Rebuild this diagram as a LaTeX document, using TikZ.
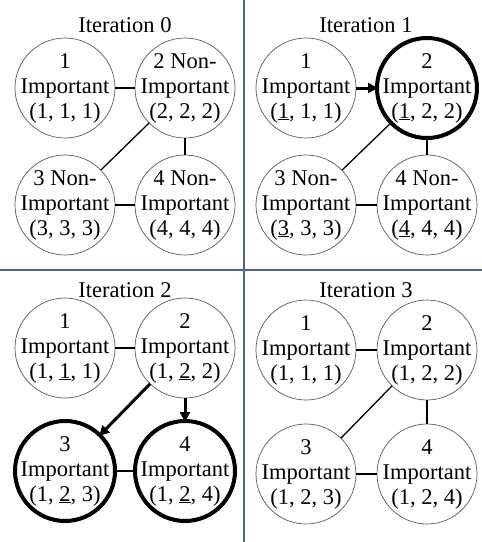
\documentclass[tikz,border=0pt]{standalone}
\usepackage{fontspec}
\setmainfont{Liberation Serif}
\usetikzlibrary{arrows.meta}
\newcommand\myfs{\fontsize{22.5}{25}\selectfont}
\definecolor{divc}{RGB}{84,100,132}
\tikzset{
  nd/.style={circle, draw=black!65, line width=0.7pt, minimum size=100pt, inner sep=-12pt, outer sep=0pt, align=center, font=\myfs},
  hl/.style={draw=black, line width=4pt},
  lnk/.style={line width=1.3pt},
  arr/.style={line width=3pt, -{Triangle[length=10pt,width=10pt]}, shorten >=-1pt},
  ttl/.style={font=\myfs, inner sep=0pt},
  divl/.style={draw=divc, line width=1.4pt}
}
\begin{document}
\begin{tikzpicture}[x=1pt,y=-1pt]
\useasboundingbox (0,0) rectangle (482,542);
% dividers
\coordinate (vt) at (244,0); \coordinate (vb) at (244,542);
\coordinate (hl) at (0,270); \coordinate (hr) at (482,270);
\draw[divl] (vt) -- (vb);
\draw[divl] (hl) -- (hr);

% Iteration 0
\node[ttl] (t0) at (125,25) {Iteration 0};
\node[nd] (a1) at (65,88) {1\\Important\\(1, 1, 1)};
\node[nd] (a2) at (185,88) {2 Non-\\Important\\(2, 2, 2)};
\node[nd] (a3) at (65,205) {3 Non-\\Important\\(3, 3, 3)};
\node[nd] (a4) at (185,205) {4 Non-\\Important\\(4, 4, 4)};
\draw[lnk] (a1) -- (a2);
\draw[lnk] (a2) -- (a3);
\draw[lnk] (a2) -- (a4);
\draw[lnk] (a3) -- (a4);

% Iteration 1
\node[ttl] (t1) at (366,25) {Iteration 1};
\node[nd] (b1) at (306,88) {1\\Important\\(\underline{1}, 1, 1)};
\node[nd,hl] (b2) at (427,88) {2\\Important\\(\underline{1}, 2, 2)};
\node[nd] (b3) at (306,205) {3 Non-\\Important\\(\underline{3}, 3, 3)};
\node[nd] (b4) at (427,205) {4 Non-\\Important\\(\underline{4}, 4, 4)};
\draw[arr] (b1) -- (b2);
\draw[lnk] (b2) -- (b3);
\draw[lnk] (b2) -- (b4);
\draw[lnk] (b3) -- (b4);

% Iteration 2
\node[ttl] (t2) at (125,290) {Iteration 2};
\node[nd] (c1) at (65,348) {1\\Important\\(1, \underline{1}, 1)};
\node[nd] (c2) at (185,348) {2\\Important\\(1, \underline{2}, 2)};
\node[nd,hl] (c3) at (65,471) {3\\Important\\(1, \underline{2}, 3)};
\node[nd,hl] (c4) at (185,471) {4\\Important\\(1, \underline{2}, 4)};
\draw[lnk] (c1) -- (c2);
\draw[arr] (c2) -- (c3);
\draw[arr] (c2) -- (c4);
\draw[lnk] (c3) -- (c4);

% Iteration 3
\node[ttl] (t3) at (366,290) {Iteration 3};
\node[nd] (d1) at (306,350) {1\\Important\\(1, 1, 1)};
\node[nd] (d2) at (427,350) {2\\Important\\(1, 2, 2)};
\node[nd] (d3) at (306,474) {3\\Important\\(1, 2, 3)};
\node[nd] (d4) at (427,474) {4\\Important\\(1, 2, 4)};
\draw[lnk] (d1) -- (d2);
\draw[lnk] (d2) -- (d3);
\draw[lnk] (d2) -- (d4);
\draw[lnk] (d3) -- (d4);
\end{tikzpicture}
\end{document}
